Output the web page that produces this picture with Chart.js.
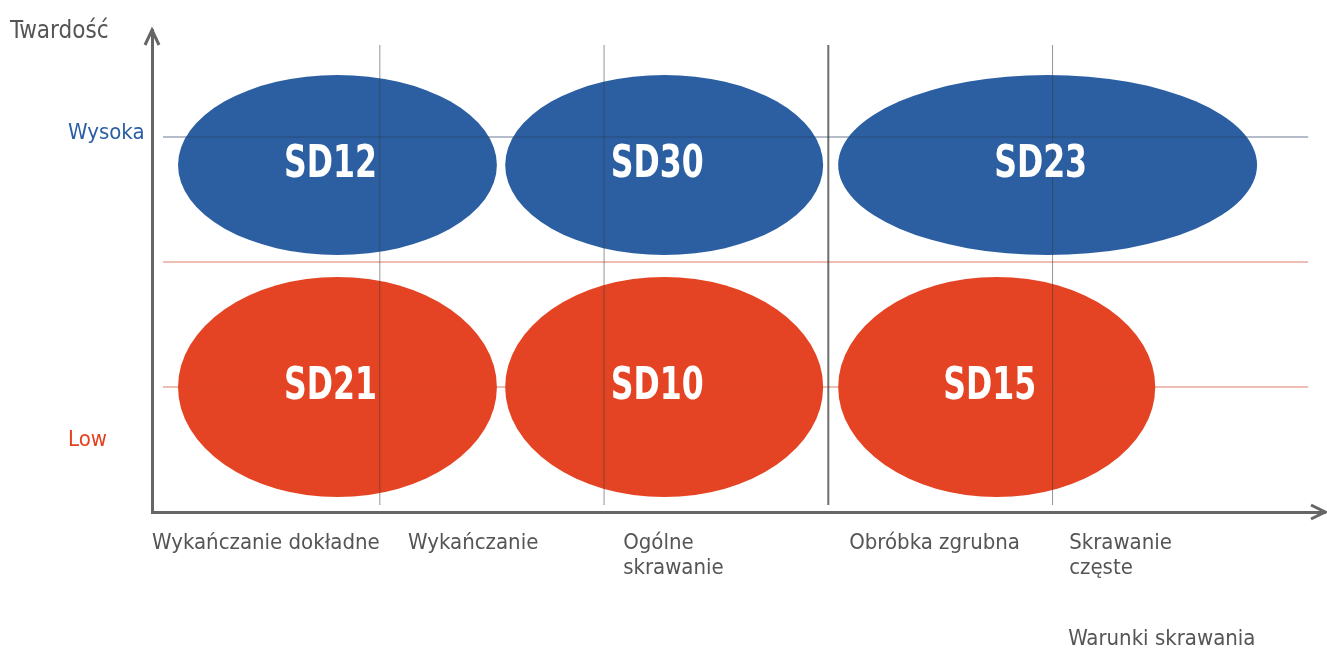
<!DOCTYPE html>
<html>
<head>
<meta charset="utf-8">
<script src="https://cdn.jsdelivr.net/npm/chart.js@4/dist/chart.umd.min.js"></script>
<style>
html, body { margin: 0; padding: 0; background: #fff; }
#wrap { width: 1327px; height: 648px; }
</style>
</head>
<body>
<div id="wrap"><canvas id="chart"></canvas></div>
<script>
const FONT = "'Liberation Sans Narrow', 'DejaVu Sans Condensed', 'Liberation Sans', sans-serif";

// grades (ellipses): centre and half sizes in axis units
const gradeNames = ['SD12', 'SD30', 'SD23', 'SD21', 'SD10', 'SD15'];
const gradeX = [0.811, 2.268, 3.978, 0.811, 2.268, 3.751];
const gradeY = [2.776, 2.776, 2.776, 1.0, 1.0, 1.0];
const gradeHalfW = [0.711, 0.709, 0.934, 0.711, 0.709, 0.707];
const gradeHalfH = [0.72, 0.72, 0.72, 0.88, 0.88, 0.88];
const gradeRow = ['high', 'high', 'high', 'low', 'low', 'low'];

// axis ticks
const xTickPos = [-0.016, 1.126, 2.085, 3.093, 4.074];
const xTickLabels = ['Wykańczanie dokładne', 'Wykańczanie', ['Ogólne', 'skrawanie'], 'Obróbka zgrubna', ['Skrawanie', 'częste']];
const yTickPos = [0.576, 3.03];
const yTickLabels = ['Low', 'Wysoka'];

// guide lines
const vLinePos = [1, 2, 3, 4];
const hLinePos = [1, 2, 3];

const rowColors = { high: '#2c5fa2', low: '#e54424' };

const lineSets = [];
vLinePos.forEach(v => {
    lineSets.push({
        data: [{ x: v, y: 0.056 }, { x: v, y: 3.736 }],
        borderColor: v === 3 ? 'rgba(60,60,60,0.75)' : 'rgba(60,60,60,0.55)',
        borderWidth: v === 3 ? 2 : 1
    });
});
hLinePos.forEach(h => {
    lineSets.push({
        data: [{ x: 0.033, y: h }, { x: 5.14, y: h }],
        borderColor: h === 3 ? 'rgba(40,65,100,0.7)' : 'rgba(210,70,40,0.7)',
        borderWidth: 1
    });
});
lineSets.forEach(d => {
    d.showLine = true;
    d.pointRadius = 0;
    d.fill = false;
});

const ellipsePlugin = {
    id: 'ellipses',
    beforeDatasetsDraw(chart) {
        const { ctx, scales: { x, y } } = chart;
        ctx.save();
        gradeNames.forEach((n, i) => {
            const cx = x.getPixelForValue(gradeX[i]);
            const cy = y.getPixelForValue(gradeY[i]);
            const rx = Math.abs(x.getPixelForValue(gradeX[i] + gradeHalfW[i]) - cx);
            const ry = Math.abs(y.getPixelForValue(gradeY[i] + gradeHalfH[i]) - cy);
            ctx.beginPath();
            ctx.ellipse(cx, cy, rx, ry, 0, 0, Math.PI * 2);
            ctx.fillStyle = rowColors[gradeRow[i]];
            ctx.fill();
        });
        ctx.restore();
    },
    afterDatasetsDraw(chart) {
        const { ctx, scales: { x, y } } = chart;
        gradeNames.forEach((n, i) => {
            ctx.save();
            // labels sit a little left of the ellipse centre
            ctx.translate(x.getPixelForValue(gradeX[i]) - 7, y.getPixelForValue(gradeY[i]));
            ctx.scale(0.78, 1);   // condensed look
            ctx.font = 'bold 45px ' + FONT;
            ctx.fillStyle = '#ffffff';
            ctx.textAlign = 'center';
            ctx.textBaseline = 'middle';
            ctx.fillText(n, 0, 0);
            ctx.restore();
        });
    }
};

const axisPlugin = {
    id: 'axisExtras',
    afterDraw(chart) {
        const { ctx, chartArea: a, scales: { x } } = chart;
        ctx.save();
        // arrow heads
        ctx.strokeStyle = '#666';
        ctx.lineWidth = 3;
        ctx.beginPath();
        ctx.moveTo(a.left - 7, a.top + 15);
        ctx.lineTo(a.left, a.top);
        ctx.lineTo(a.left + 7, a.top + 15);
        ctx.moveTo(a.right - 14, a.bottom - 7);
        ctx.lineTo(a.right, a.bottom);
        ctx.lineTo(a.right - 14, a.bottom + 7);
        ctx.stroke();
        // axis titles
        ctx.fillStyle = '#555';
        ctx.textAlign = 'left';
        ctx.textBaseline = 'alphabetic';
        ctx.font = '24px ' + FONT;
        ctx.fillText('Twardość', 10, 38);
        ctx.font = '22px ' + FONT;
        ctx.fillText('Warunki skrawania', x.getPixelForValue(xTickPos[4]) - 1, 645);
        ctx.restore();
    }
};

new Chart(document.getElementById('chart'), {
    type: 'scatter',
    data: { datasets: lineSets },
    options: {
        responsive: true,
        maintainAspectRatio: false,
        animation: false,
        layout: { padding: { left: 68, top: 30, right: 2, bottom: 0 } },
        plugins: {
            legend: { display: false },
            tooltip: { enabled: false }
        },
        scales: {
            x: {
                type: 'linear',
                min: -0.016,
                max: 5.215,
                afterFit: s => { s.height = 136; },
                afterBuildTicks: s => { s.ticks = xTickPos.map(v => ({ value: v })); },
                grid: { display: false, drawTicks: false },
                border: { display: true, color: '#666', width: 3 },
                ticks: {
                    align: 'start',
                    padding: 19,
                    maxRotation: 0,
                    autoSkip: false,
                    color: '#555',
                    font: { family: FONT, size: 22, lineHeight: 1.14 },
                    callback: (v, i) => xTickLabels[i]
                }
            },
            y: {
                type: 'linear',
                min: 0,
                max: 3.856,
                afterFit: s => { s.width = 84; },
                afterBuildTicks: s => { s.ticks = yTickPos.map(v => ({ value: v })); },
                grid: { display: false, drawTicks: false },
                border: { display: true, color: '#666', width: 3 },
                ticks: {
                    crossAlign: 'far',
                    autoSkip: false,
                    color: ctx => ctx.index === 0 ? '#e5401f' : '#2b5ea5',
                    font: { family: FONT, size: 22 },
                    callback: (v, i) => yTickLabels[i]
                }
            }
        }
    },
    plugins: [ellipsePlugin, axisPlugin]
});
</script>
</body>
</html>
